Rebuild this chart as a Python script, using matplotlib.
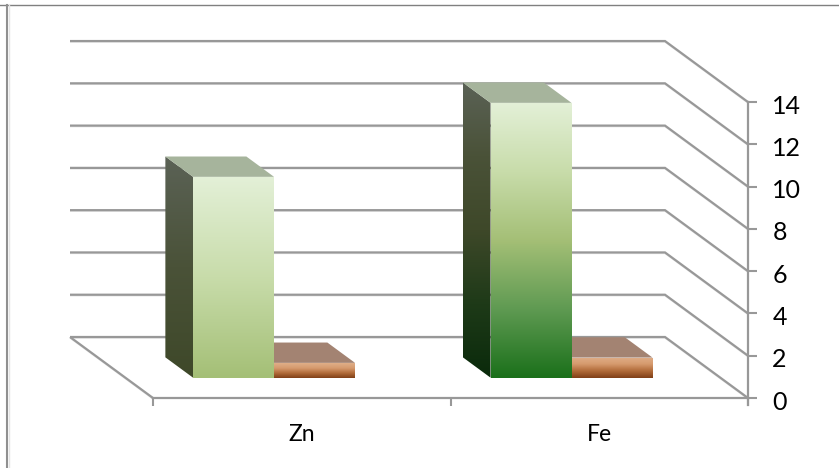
import numpy as np
import matplotlib
matplotlib.use("Agg")
import matplotlib.pyplot as plt
from matplotlib.colors import LinearSegmentedColormap
from matplotlib.lines import Line2D
from matplotlib.patches import Polygon
from matplotlib.transforms import ScaledTranslation

# Measured values
categories = ["Zn", "Fe"]
series_a = [9.5, 13.0]
series_b = [0.7, 0.95]
y_ticks = [0, 2, 4, 6, 8, 10, 12, 14]

W, H = 839, 468
PX_X = 297.5      # pixels per category
PX_Y = 21.14      # pixels per value unit
X0, Y0 = 153, 398 # pixel position of the front floor origin
DEPTH_X = 83 / PX_X
DEPTH_Y = 61 / PX_Y
BAR_W = 81 / PX_X
BAR_DEPTH = 1 / 3  # bars stand one third of the way back
BAR_GAP = 67.7 / PX_X

GRID = "#989898"
SHADOW = "#e2e2e2"

fig = plt.figure(figsize=(W / 100, H / 100), dpi=100, facecolor="white")
ax = fig.add_axes([0, 0, 1, 1])
ax.set_xlim(-X0 / PX_X, (W - X0) / PX_X)
ax.set_ylim(-(H - Y0) / PX_Y, Y0 / PX_Y)
ax.patch.set_visible(False)


def project(x, v, depth):
    """Oblique projection of (category x, value, depth) into axes data."""
    return x - depth * DEPTH_X, v + depth * DEPTH_Y


def gradient_poly(pts, stops, z):
    """Fill a polygon with a vertical colour gradient."""
    pts = np.array(pts)
    cmap = LinearSegmentedColormap.from_list("g", stops, N=512)
    xmin, xmax = pts[:, 0].min(), pts[:, 0].max()
    ymin, ymax = pts[:, 1].min(), pts[:, 1].max()
    img = ax.imshow(np.linspace(0, 1, 512)[:, None], cmap=cmap, aspect="auto",
                    origin="upper", extent=(xmin, xmax, ymin, ymax), zorder=z,
                    interpolation="bilinear")
    clip = Polygon(pts, closed=True, transform=ax.transData, fc="none", ec="none")
    ax.add_patch(clip)
    img.set_clip_path(clip)


def line(xs, ys, z=1):
    ax.plot(np.array(xs), np.array(ys) - 1.0 / PX_Y, color=SHADOW, lw=1.0,
            zorder=z, solid_capstyle="butt")
    ax.plot(xs, ys, color=GRID, lw=1.6, zorder=z + 0.1, solid_capstyle="butt",
            solid_joinstyle="miter")


# Back wall gridlines and their run down the side wall
for v in y_ticks:
    bx0, by = project(0, v, 1)
    bx1, _ = project(2, v, 1)
    if v == 0:
        line([bx0, 0], [by, 0])
    line([bx0, bx1, 2], [by, by, v])

# Bars
for i, (a, b) in enumerate(zip(series_a, series_b)):
    left = i + BAR_GAP
    x_a0, y_base = project(left, 0, BAR_DEPTH)
    x_a1 = x_a0 + BAR_W
    x_b1 = x_a1 + BAR_W
    dx, dy = BAR_DEPTH * DEPTH_X, BAR_DEPTH * DEPTH_Y
    ya = y_base + a
    yb = y_base + b

    # short bar: top and front
    ax.add_patch(Polygon([(x_a1, yb), (x_b1, yb), (x_b1 - dx, yb + dy), (x_a1 - dx, yb + dy)],
                         closed=True, fc="#a38372", ec="none", zorder=3))
    gradient_poly([(x_a1, y_base), (x_b1, y_base), (x_b1, yb), (x_a1, yb)],
                  ["#dfae88", "#d69a6e", "#b06a38", "#7f3f17"], 3.1)

    # tall bar: side, top and front; the colour ramp follows the bar's value
    if a > 10:
        front = ["#e3f0d7", "#c8dcaa", "#a4bf76", "#5f9a52", "#1a701a"]
        side = ["#5b6256", "#4a5238", "#3e4829", "#1e3a18", "#0a2a0b"]
    else:
        front = ["#e3f0d7", "#c8dcaa", "#a4bf76"]
        side = ["#5b6256", "#4a5238", "#3e4829"]
    gradient_poly([(x_a0, y_base), (x_a0 - dx, y_base + dy), (x_a0 - dx, ya + dy), (x_a0, ya)],
                  side, 4)
    ax.add_patch(Polygon([(x_a0, ya), (x_a1, ya), (x_a1 - dx, ya + dy), (x_a0 - dx, ya + dy)],
                         closed=True, fc="#a6b49c", ec="none", zorder=4.1))
    gradient_poly([(x_a0, y_base), (x_a1, y_base), (x_a1, ya), (x_a0, ya)], front, 4.2)

# Axes: the spines sit on the front floor edge
for s in ("top", "left"):
    ax.spines[s].set_visible(False)
ax.spines["right"].set_position(("data", 2))
ax.spines["bottom"].set_position(("data", 0))
ax.spines["right"].set_bounds(-7 / PX_Y, 14)
ax.spines["bottom"].set_bounds(0, 2)
for s in ("right", "bottom"):
    ax.spines[s].set_color(GRID)
    ax.spines[s].set_linewidth(1.6)

ax.yaxis.tick_right()
ax.set_yticks(y_ticks)
ax.set_yticklabels([str(v) for v in y_ticks], fontfamily="Lato", fontsize=18, color="black")
ax.tick_params(axis="y", length=6.5, width=1.5, color=GRID, pad=11)
# Nudge the value labels down so the digits centre on their ticks
nudge = ScaledTranslation(0, -2 / 100, fig.dpi_scale_trans)
for label in ax.get_yticklabels():
    label.set_transform(label.get_transform() + nudge)

ax.set_xticks([0, 1, 2])
ax.set_xticklabels([])
ax.set_xticks([0.5, 1.5], minor=True)
ax.set_xticklabels(categories, minor=True, fontfamily="Lato", fontsize=16.5, color="black")
ax.tick_params(axis="x", which="major", length=5.5, width=1.5, color=GRID)
ax.tick_params(axis="x", which="minor", length=0, pad=18.5)

# Chart frame: only its top and left edges fall inside the figure
fig.add_artist(Line2D([0, 1], [1 - 4.5 / H] * 2, color="#808080", lw=1.0))
fig.add_artist(Line2D([8.5 / W] * 2, [0, 1 - 4.5 / H], color="#e4e4e4", lw=1.0))
fig.add_artist(Line2D([7 / W] * 2, [0, 1 - 4.5 / H], color="#909090", lw=1.5))

fig.savefig("out.png", dpi=100)
